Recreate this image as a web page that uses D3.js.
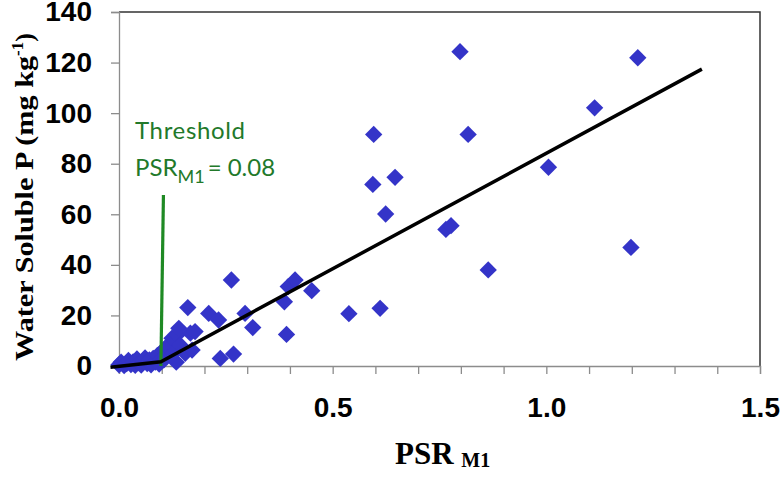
<!DOCTYPE html>
<meta charset="utf-8">
<style>
body { margin: 0; background: #fff; }
svg { font-family: "Liberation Serif", "Times New Roman", serif; }
.tick text { font-size: 28px; font-weight: bold; fill: #000; }
.axis path, .axis line { stroke: #8c8c8c; stroke-width: 1.3px; }
.frame { fill: none; stroke: #333; stroke-width: 1.5px; }
.fit { fill: none; stroke: #000; stroke-width: 3.5px; }
.thresh { fill: none; stroke: #1f8a24; stroke-width: 3.2px; }
.note { font-family: Lato, "Open Sans", sans-serif; fill: #22792a; font-size: 24px; }
</style>
<body>
<script src="https://cdnjs.cloudflare.com/ajax/libs/d3/7.8.5/d3.min.js"></script>
<script>
// PSR_M1 vs water soluble P
var psr = [0.000, 0.005, 0.012, 0.018, 0.022, 0.028, 0.033, 0.038, 0.042, 0.047,
           0.052, 0.056, 0.061, 0.066, 0.071, 0.075, 0.080, 0.085, 0.090, 0.094,
           0.098, 0.105, 0.108, 0.112, 0.124, 0.127, 0.134, 0.136, 0.140, 0.143,
           0.155, 0.161, 0.167, 0.171, 0.178, 0.210, 0.233, 0.237, 0.263, 0.268,
           0.295, 0.313, 0.387, 0.392, 0.396, 0.412, 0.451, 0.538, 0.611, 0.594,
           0.596, 0.624, 0.646, 0.765, 0.777, 0.798, 0.817, 0.864, 1.005, 1.113,
           1.198, 1.214];
var wsp = [0.5, 1.5, 0.2, 1.0, 2.2, 0.6, 1.6, 0.3, 2.8, 1.2,
           0.4, 2.0, 3.2, 1.0, 2.4, 0.5, 3.0, 1.5, 4.2, 0.8,
           2.6, 2.4, 7.0, 7.6, 11.0, 5.2, 1.5, 12.3, 14.9, 8.3,
           5.0, 23.1, 13.0, 6.3, 13.6, 20.8, 18.2, 3.0, 34.0, 4.7,
           20.8, 15.2, 25.4, 12.5, 31.4, 34.0, 29.8, 20.7, 22.8, 71.8,
           91.6, 60.1, 74.6, 54.0, 55.5, 124.3, 91.6, 38.0, 78.6, 102.1,
           46.9, 121.9];

// segmented fit and threshold marker
var fitX = [-0.02, 0.098, 1.364];
var fitY = [-0.5, 1.7, 117.4];
var threshX = [0.098, 0.104];
var threshY = [0, 67.6];

var xTicks = d3.range(0, 16).map(function(i) { return i / 10; });
var xLabels = [0, 0.5, 1.0, 1.5];
var yTicks = [0, 20, 40, 60, 80, 100, 120, 140];

var W = 780, H = 480;
var margin = {top: 12, right: 20, bottom: 114, left: 119},
    width = W - margin.left - margin.right,
    height = H - margin.top - margin.bottom;

var svg = d3.select("body").append("svg")
    .attr("width", W)
    .attr("height", H);

var g = svg.append("g")
    .attr("transform", "translate(" + margin.left + "," + margin.top + ")");

var x = d3.scaleLinear().domain([0, 1.5]).range([0, width]);
var y = d3.scaleLinear().domain([0, 140]).range([height, 0]);

// top + right border
g.append("path")
    .attr("class", "frame")
    .attr("d", "M0,0H" + width + "V" + height);

g.append("g")
    .attr("class", "axis")
    .call(d3.axisLeft(y).tickValues(yTicks).tickSize(8).tickPadding(19).tickFormat(d3.format("d")));

g.append("g")
    .attr("class", "axis")
    .attr("transform", "translate(0," + height + ")")
    .call(d3.axisBottom(x).tickValues(xTicks).tickSize(8).tickPadding(23)
      .tickFormat(function(d) {
        return xLabels.some(function(v) { return Math.abs(v - d) < 1e-9; }) ? d3.format(".1f")(d) : "";
      }));

// points
var diamond = d3.symbol().type(d3.symbolSquare).size(150);
g.append("g")
  .selectAll("path")
    .data(psr)
  .enter().append("path")
    .attr("d", diamond)
    .attr("fill", "#3434c8")
    .attr("transform", function(d, i) {
      return "translate(" + x(d) + "," + y(wsp[i]) + ") rotate(45)";
    });

var line = d3.line()
    .x(function(d) { return x(d[0]); })
    .y(function(d) { return y(d[1]); });

g.append("path")
    .attr("class", "thresh")
    .attr("d", line(d3.zip(threshX, threshY)));

g.append("path")
    .attr("class", "fit")
    .attr("d", line(d3.zip(fitX, fitY)));

// threshold note
svg.append("text")
    .attr("class", "note")
    .attr("x", 135)
    .attr("y", 139)
    .attr("textLength", 110)
    .text("Threshold");

var n2 = svg.append("text")
    .attr("class", "note")
    .attr("x", 135)
    .attr("y", 176);
n2.append("tspan").text("PSR");
n2.append("tspan").attr("font-size", "18px").attr("dy", 7).text("M1");
n2.append("tspan").attr("dy", -7).attr("dx", 3).text("= 0.08");

// axis titles
var xt = svg.append("text")
    .attr("x", 395)
    .attr("y", 464)
    .attr("font-size", "31px")
    .attr("font-weight", "bold");
xt.append("tspan").text("PSR ");
xt.append("tspan").attr("font-size", "20px").attr("dy", 3).text("M1");

var yt = svg.append("text")
    .attr("transform", "translate(33," + 197 + ") rotate(-90)")
    .attr("text-anchor", "middle")
    .attr("font-size", "26px")
    .attr("font-weight", "bold");
yt.append("tspan").attr("textLength", 305).attr("lengthAdjust", "spacingAndGlyphs").text("Water Soluble P (mg kg");
yt.append("tspan").attr("font-size", "17px").attr("dy", -10).text("-1");
yt.append("tspan").attr("dy", 10).text(")");
</script>
